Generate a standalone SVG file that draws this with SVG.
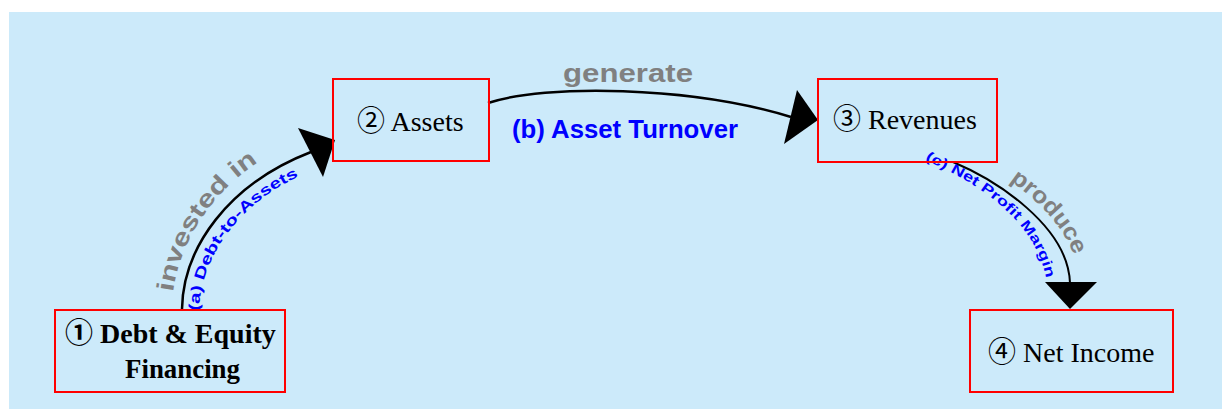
<svg xmlns="http://www.w3.org/2000/svg" xmlns:xlink="http://www.w3.org/1999/xlink" width="1222" height="409" viewBox="0 0 1222 409">
<defs>
<style>
.node rect{fill:none;stroke:#ff0000;stroke-width:2}
.nt{font-family:"Liberation Serif","Times New Roman","Noto Sans CJK JP",serif;font-size:28px;fill:#000}
.b{font-weight:bold}
.edge{fill:none;stroke:#000;stroke-width:2.5}
.head{fill:#000}
.verb{font-family:"Liberation Sans",Arial,sans-serif;font-weight:bold;fill:#808080}
.ratio{font-family:"Liberation Sans",Arial,sans-serif;font-weight:bold;fill:#0000ff}
</style>
<path id="tpA1" d="M172,306 C174,243 219,171 302,140"/>
<path id="tpA2" d="M199,313 C200,255 242,196 319,168"/>
<path id="tpC1" d="M957,152 C1001,169 1078,219 1080,285"/>
<path id="tpC2" d="M925,160 C984,185 1045,228 1048,294"/>
</defs>
<rect x="9" y="12" width="1213" height="397" fill="#cceafa"/>

<g id="connectors">
<path class="edge" d="M182,309 C183,248 228,184 311,152"/>
<polygon class="head" points="298,128 323,177 335,140"/>
<path class="edge" d="M488,103 C545,84 690,86 791,117"/>
<polygon class="head" points="797,90 784,144 818,120"/>
<path class="edge" d="M953,162 C996,180 1068,226 1070,283" style="stroke-width:2"/>
<polygon class="head" points="1045,282 1097,282 1070,309"/>
<text class="verb" font-size="24"><textPath xlink:href="#tpA1" startOffset="14" textLength="160" lengthAdjust="spacingAndGlyphs">invested in</textPath></text>
<text class="ratio" font-size="15"><textPath xlink:href="#tpA2" startOffset="2" textLength="176" lengthAdjust="spacingAndGlyphs">(a) Debt-to-Assets</textPath></text>
<text class="verb" font-size="26" x="563" y="82" textLength="130" lengthAdjust="spacingAndGlyphs">generate</text>
<text class="ratio" font-size="25" x="512" y="138" textLength="226" lengthAdjust="spacingAndGlyphs">(b) Asset Turnover</text>
<text class="verb" font-size="23"><textPath xlink:href="#tpC1" startOffset="60" textLength="100" lengthAdjust="spacingAndGlyphs">produce</textPath></text>
<text class="ratio" font-size="14"><textPath xlink:href="#tpC2" startOffset="0" textLength="176" lengthAdjust="spacingAndGlyphs">(c) Net Profit Margin</textPath></text>
</g>

<g id="node1" class="node">
<rect x="55" y="310" width="230" height="82"/>
<text class="nt b" x="65" y="343">① Debt &amp; Equity</text>
<text class="nt b" x="125" y="378" textLength="115" lengthAdjust="spacingAndGlyphs">Financing</text>
</g>
<g id="node2" class="node">
<rect x="333" y="79" width="156" height="82"/>
<text class="nt" x="357" y="131">② Assets</text>
</g>
<g id="node3" class="node">
<rect x="818" y="79" width="179" height="83"/>
<text class="nt" x="833" y="129">③ Revenues</text>
</g>
<g id="node4" class="node">
<rect x="970" y="310" width="203" height="82"/>
<text class="nt" x="988" y="362">④ Net Income</text>
</g>
</svg>
